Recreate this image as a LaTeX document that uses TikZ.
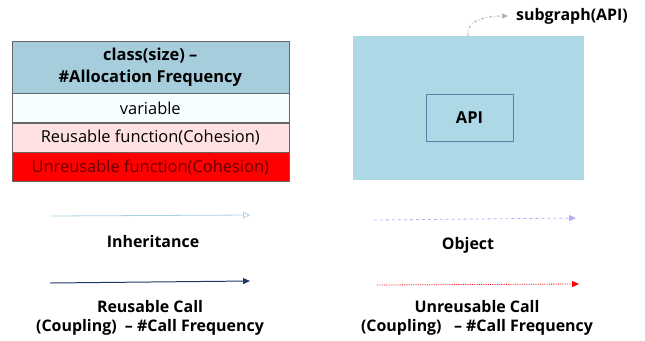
\documentclass[tikz,border=0pt]{standalone}
\usepackage{fontspec}
\setmainfont{Open Sans}
\usetikzlibrary{arrows.meta}
\definecolor{hdrblue}{HTML}{A5CDDB}
\definecolor{varfill}{HTML}{F7FEFF}
\definecolor{reufill}{HTML}{FFE1E1}
\definecolor{subblue}{HTML}{ADD8E6}
\definecolor{apiborder}{HTML}{5B7FA8}
\definecolor{inhcol}{HTML}{A8D4E4}
\definecolor{navy}{HTML}{1F3864}
\definecolor{lav}{HTML}{B4AEF2}
\tikzset{
  cell/.style={draw=gray!80!black, line width=0.6pt, minimum width=277bp, inner sep=0pt, font=\fontsize{16.5}{20}\selectfont},
  lbl/.style={font=\bfseries\fontsize{16}{19.5}\selectfont, align=center, inner sep=0pt},
}
\begin{document}
\begin{tikzpicture}[x=1bp,y=-1bp]
\useasboundingbox (0,0) rectangle (645,340);
% legend table
\node[cell, fill=hdrblue, minimum height=52bp, anchor=north west, font=\bfseries\fontsize{16.5}{22}\selectfont, align=center] (hdr) at (11.5,40.5) {class(size) --\\\#Allocation Frequency};
\node[cell, fill=varfill, minimum height=29bp, anchor=north] (var) at (hdr.south) {variable};
\node[cell, fill=reufill, minimum height=29bp, anchor=north] (reu) at (var.south) {Reusable function(Cohesion)};
\node[cell, fill=red, text=red!40!black, minimum height=29bp, anchor=north] (unr) at (reu.south) {Unreusable function(Cohesion)};
% subgraph
\node[fill=subblue, minimum width=231bp, minimum height=144bp, inner sep=0pt, anchor=north west] (sub) at (353,36) {};
\node[draw=apiborder, line width=0.6pt, minimum width=87bp, minimum height=47bp, inner sep=0pt, font=\bfseries\fontsize{16.5}{20}\selectfont] (api) at (469.5,117.5) {API};
\coordinate (subtop) at (468,36);
\node[lbl, anchor=west] (sublbl) at (516,16) {subgraph(API)};
\draw[gray!60, line width=1pt, dash dot, -{Triangle[length=6pt,width=5pt]}] (subtop) to[out=100, in=180] ([xshift=-8bp]sublbl.west);
% arrows
\coordinate (i1) at (50,216); \coordinate (i2) at (250,215);
\draw[inhcol, line width=0.8pt, -{Triangle[open,length=7pt,width=7pt]}] (i1) -- (i2);
\node[lbl] (inh) at (153,242) {Inheritance};
\coordinate (r1) at (50,283); \coordinate (r2) at (250,281);
\draw[navy, line width=1pt, -{Triangle[length=7pt,width=6pt]}] (r1) -- (r2);
\node[lbl] (rc) at (150,318) {Reusable Call\\(Coupling) \ -- \#Call Frequency};
\coordinate (o1) at (374,220); \coordinate (o2) at (576,218);
\draw[lav, line width=0.8pt, dashed, -{Triangle[length=7pt,width=6pt]}] (o1) -- (o2);
\node[lbl] (obj) at (468,245) {Object};
\coordinate (u1) at (377,285); \coordinate (u2) at (579,284);
\draw[red, line width=0.8pt, densely dotted, -{Triangle[length=7pt,width=6pt]}] (u1) -- (u2);
\node[lbl] (uc) at (477,318) {Unreusable Call\\(Coupling) \ \ -- \#Call Frequency};
\end{tikzpicture}
\end{document}
